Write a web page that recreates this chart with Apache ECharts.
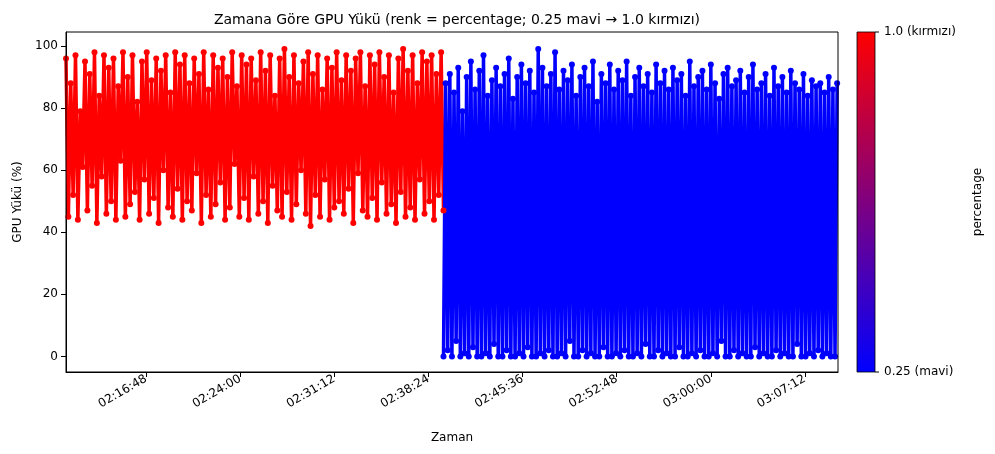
<!DOCTYPE html>
<html><head><meta charset="utf-8">
<script src="https://cdn.jsdelivr.net/npm/echarts@6/dist/echarts.min.js"></script>
<style>html,body{margin:0;padding:0;background:#fff}#c{width:995px;height:454px}</style>
</head><body><div id="c"></div>
<script>
// seconds since midnight
const redStart = 7840, redEnd = 9573, blueStart = 9573, blueEnd = 11380;
const xMin = 7840, xMax = 11384;
const xTicks = [8208, 8640, 9072, 9504, 9936, 10368, 10800, 11232];
const yTicks = [0, 20, 40, 60, 80, 100];
const redValues = [96,45,88,52,97,44,79,61,95,47,91,55,98,43,84,58,97,46,93,50,96,44,87,63,98,45,90,49,97,53,82,44,95,57,98,46,89,51,96,43,92,60,97,48,85,45,98,54,94,44,97,50,88,47,96,59,91,43,98,52,86,45,97,49,93,56,96,44,90,48,98,62,87,45,97,51,94,44,96,58,89,46,98,50,92,43,97,55,84,47,96,45,99,53,90,44,97,49,88,60,95,46,98,42,91,52,97,45,86,57,96,44,93,48,98,50,89,46,97,54,92,43,96,59,98,47,87,45,97,51,94,44,98,56,90,46,97,49,85,43,96,53,99,45,92,48,97,44,88,57,98,46,95,50,97,44,91,52,98,47];
const blueValues = [0,88,2,91,0,85,5,93,0,79,1,90,0,95,3,86,0,92,0,97,1,84,0,89,4,93,0,87,0,91,2,96,0,83,0,90,1,94,0,88,3,92,0,85,0,99,1,93,0,87,2,91,0,98,0,86,1,92,0,89,5,94,0,84,0,90,2,93,0,87,1,95,0,82,0,91,3,88,0,94,0,86,1,92,0,89,2,95,0,84,0,90,1,93,0,87,4,91,0,85,0,94,2,88,0,92,1,86,0,93,0,89,3,91,0,84,0,95,1,87,0,90,2,92,0,86,0,94,1,88,0,83,5,91,0,93,0,87,2,89,0,92,1,85,0,90,0,94,3,86,0,88,1,91,0,84,0,93,2,87,0,90,1,85,0,92,0,88,4,86,0,91,0,84,1,89,0,87,2,88,0,85,1,90,0,86,0,88];

function pts(vals, s, e){ const st=(e-s)/(vals.length-1); return vals.map((v,i)=>[s+i*st, v]); }
function fmt(t){ t=Math.round(t); const p=n=>String(n).padStart(2,'0'); return p(Math.floor(t/3600))+':'+p(Math.floor(t%3600/60))+':'+p(t%60); }
const F='DejaVu Sans';
const ch = echarts.init(document.getElementById('c'));
ch.setOption({
  animation:false,
  textStyle:{fontFamily:F},
  title:{text:'Zamana Göre GPU Yükü (renk = percentage; 0.25 mavi → 1.0 kırmızı)',left:452,top:8,textAlign:'center',textStyle:{fontFamily:F,fontSize:14,fontWeight:'normal',color:'#000'}},
  grid:{left:66,right:157,top:32,bottom:82},
  xAxis:{type:'value',min:xMin,max:xMax,name:'Zaman',nameLocation:'middle',nameGap:60,nameTextStyle:{fontSize:12,color:'#000'},
    splitLine:{show:false},axisLine:{onZero:false,lineStyle:{color:'#000'}},
    axisTick:{customValues:xTicks,lineStyle:{color:'#000'}},
    axisLabel:{customValues:xTicks,rotate:30,margin:6,color:'#000',fontSize:12,formatter:fmt}},
  yAxis:{type:'value',min:-5,max:104.5,name:'GPU Yükü (%)',nameLocation:'middle',nameGap:40,nameTextStyle:{fontSize:12,color:'#000'},
    splitLine:{show:false},axisLine:{show:true,lineStyle:{color:'#000'}},
    axisTick:{show:true,customValues:yTicks,lineStyle:{color:'#000'}},
    axisLabel:{customValues:yTicks,color:'#000',fontSize:12}},
  series:[
    {type:'line',data:pts(redValues,redStart,redEnd),color:'#ff0000',lineStyle:{width:3.5},symbol:'circle',symbolSize:6,showSymbol:true,itemStyle:{color:'#ff0000'}},
    {type:'line',data:pts(blueValues,blueStart,blueEnd),color:'#0000ff',lineStyle:{width:3.5},symbol:'circle',symbolSize:6,showSymbol:true,itemStyle:{color:'#0000ff'}}
  ],
  graphic:[
    {type:'rect',z:100,shape:{x:66,y:32,width:772,height:340},style:{stroke:'#000',lineWidth:1,fill:null}},
    {type:'rect',shape:{x:857,y:32,width:18,height:340},style:{stroke:'#000',lineWidth:0.8,fill:new echarts.graphic.LinearGradient(0,0,0,1,[{offset:0,color:'#ff0000'},{offset:1,color:'#0000ff'}])}},
    {type:'line',shape:{x1:875,y1:32,x2:879,y2:32},style:{stroke:'#000'}},
    {type:'line',shape:{x1:875,y1:372,x2:879,y2:372},style:{stroke:'#000'}},
    {type:'text',x:884,y:32,style:{text:'1.0 (kırmızı)',fontFamily:F,fontSize:12,fill:'#000',verticalAlign:'middle'}},
    {type:'text',x:884,y:372,style:{text:'0.25 (mavi)',fontFamily:F,fontSize:12,fill:'#000',verticalAlign:'middle'}},
    {type:'text',x:978,y:202,rotation:Math.PI/2,style:{text:'percentage',fontFamily:F,fontSize:12,fill:'#000',align:'center',verticalAlign:'middle'}}
  ]
});
</script></body></html>
